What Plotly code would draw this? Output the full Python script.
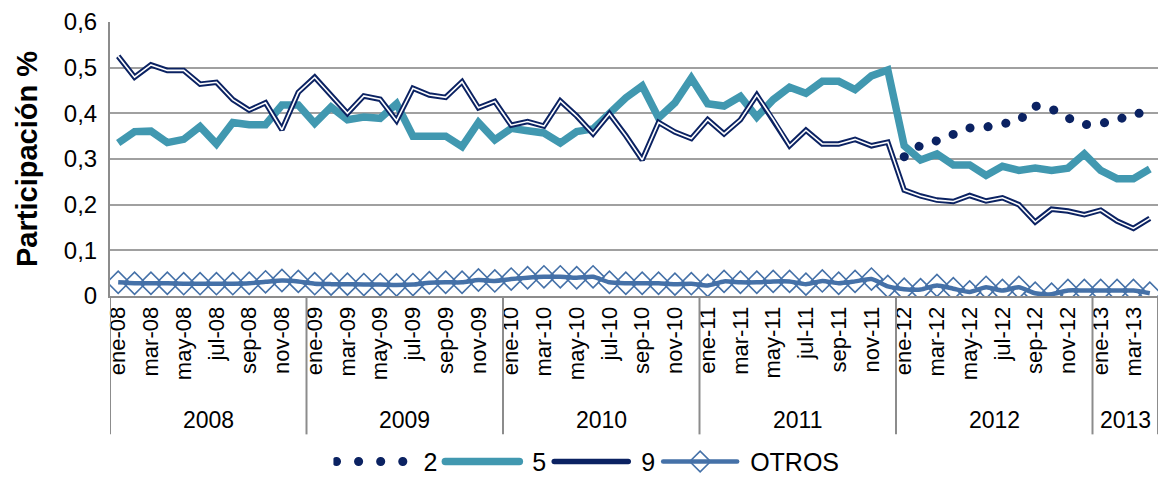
import plotly.graph_objects as go

# ---------------- data ----------------
years = ["2008", "2009", "2010", "2011", "2012", "2013"]
months_per_year = [12, 12, 12, 12, 12, 4]
month_abbr = ["ene", "feb", "mar", "abr", "may", "jun", "jul", "ago", "sep", "oct", "nov", "dic"]
series_names = ["2", "5", "9", "OTROS"]

serie_5 = [0.335, 0.360, 0.361, 0.336, 0.343, 0.371, 0.333, 0.380, 0.375, 0.375, 0.418, 0.418,
           0.378, 0.414, 0.386, 0.392, 0.389, 0.421, 0.350, 0.350, 0.350, 0.327, 0.380, 0.342,
           0.367, 0.362, 0.357, 0.335, 0.360, 0.366, 0.398, 0.434, 0.460, 0.390, 0.423, 0.477,
           0.421, 0.416, 0.437, 0.392, 0.430, 0.457, 0.444, 0.470, 0.470, 0.452, 0.482, 0.495,
           0.329, 0.298, 0.311, 0.287, 0.287, 0.264, 0.284, 0.275, 0.280, 0.275, 0.280, 0.311,
           0.275, 0.257, 0.257, 0.278]

serie_9 = [0.525, 0.479, 0.506, 0.494, 0.494, 0.464, 0.468, 0.430, 0.407, 0.423, 0.364, 0.446,
           0.479, 0.440, 0.400, 0.438, 0.431, 0.384, 0.455, 0.440, 0.435, 0.469, 0.412, 0.426,
           0.374, 0.382, 0.372, 0.427, 0.394, 0.355, 0.399, 0.351, 0.298, 0.380, 0.359, 0.345,
           0.386, 0.355, 0.386, 0.440, 0.387, 0.329, 0.363, 0.333, 0.333, 0.343, 0.329, 0.337,
           0.232, 0.219, 0.210, 0.207, 0.220, 0.208, 0.215, 0.200, 0.162, 0.190, 0.186, 0.178,
           0.188, 0.164, 0.148, 0.170]

serie_2 = [None] * 48 + [0.305, 0.330, 0.340, 0.355, 0.368, 0.370, 0.378, 0.384, 0.416, 0.410,
                         0.390, 0.375, 0.378, 0.385, 0.400, 0.400]

serie_otros = [0.030, 0.028, 0.028, 0.028, 0.027, 0.027, 0.027, 0.027, 0.028, 0.031, 0.034, 0.032,
               0.027, 0.026, 0.026, 0.025, 0.025, 0.024, 0.025, 0.029, 0.030, 0.030, 0.035, 0.033,
               0.037, 0.040, 0.042, 0.042, 0.040, 0.042, 0.030, 0.028, 0.028, 0.028, 0.026, 0.027,
               0.023, 0.032, 0.030, 0.030, 0.032, 0.032, 0.026, 0.033, 0.028, 0.032, 0.037, 0.021,
               0.015, 0.014, 0.023, 0.016, 0.009, 0.019, 0.012, 0.019, 0.006, 0.004, 0.012, 0.012,
               0.012, 0.012, 0.012, 0.006]

y_tick_vals = [0, 0.1, 0.2, 0.3, 0.4, 0.5, 0.6]
y_tick_text = ["0", "0,1", "0,2", "0,3", "0,4", "0,5", "0,6"]

# ---------------- derived categories ----------------
labels = []
year_start = []
idx = 0
for y, n in zip(years, months_per_year):
    year_start.append(idx)
    for m in range(n):
        labels.append(f"{month_abbr[m]}-{y[2:]}")
        idx += 1
x = list(range(len(labels)))
tick_idx = [i for i in x if i % 2 == 0]
tick_txt = [labels[i] for i in tick_idx]

FONT = "Liberation Sans, Arial, sans-serif"
TEAL = "#4198b0"
NAVY = "#0b2262"
BLUE = "#4571a8"
GRID = "#a0a0a0"
AXIS = "#8c8c8c"
LEG_ITEM_W = 80

fig = go.Figure()
fig.add_trace(go.Scatter(x=x, y=serie_2, name=series_names[0], mode="lines",
                         line=dict(color=NAVY, width=9, dash="7px,11px")))
fig.add_trace(go.Scatter(x=x, y=serie_5, name=series_names[1], mode="lines",
                         line=dict(color=TEAL, width=7.5)))
fig.add_trace(go.Scatter(x=x, y=serie_9, name=series_names[2], mode="lines",
                         line=dict(color=NAVY, width=5.5)))
fig.add_trace(go.Scatter(x=x, y=serie_9, name=series_names[2], mode="lines", showlegend=False,
                         hoverinfo="skip", line=dict(color="white", width=1.6)))
fig.add_trace(go.Scatter(x=x, y=serie_otros, name=series_names[3], mode="lines+markers",
                         line=dict(color=BLUE, width=4.5, shape="spline", smoothing=0.6),
                         marker=dict(symbol="diamond-open", size=17, color=BLUE,
                                     line=dict(width=1.6, color=BLUE))))

# year labels and separators under the axis
for y, s, n in zip(years, year_start, months_per_year):
    fig.add_annotation(x=s + (n - 1) / 2, y=-0.453, xref="x", yref="paper",
                       xanchor="center", yanchor="middle",
                       text=y, showarrow=False, font=dict(size=23, color="black", family=FONT))
bounds = [s - 0.5 for s in year_start] + [len(x) - 0.5]
for b in bounds:
    fig.add_shape(type="line", x0=b, x1=b, xref="x", y0=0, y1=-0.505, yref="paper",
                  line=dict(color=AXIS, width=2))

fig.update_layout(
    width=1161, height=487,
    margin=dict(l=110, r=3, t=22, b=189),
    paper_bgcolor="white", plot_bgcolor="white",
    font=dict(family=FONT, color="black"),
    showlegend=True,
    legend=dict(orientation="h", x=0.457, xanchor="center", y=-0.605, yanchor="middle",
                font=dict(size=25, color="black"), traceorder="normal", itemwidth=LEG_ITEM_W),
    xaxis=dict(range=[-0.5, len(x) - 0.5], tickmode="array", tickvals=tick_idx, ticktext=tick_txt,
               tickangle=-90, tickfont=dict(size=22, color="black"), showgrid=False,
               showline=True, linecolor=AXIS, linewidth=2, ticks="", zeroline=False),
    yaxis=dict(range=[0, 0.6], tickmode="array", tickvals=y_tick_vals, ticktext=y_tick_text,
               tickfont=dict(size=24, color="black"), showgrid=True, gridcolor=GRID, gridwidth=2,
               showline=True, linecolor=AXIS, linewidth=2, zeroline=False, ticks="",
               ticklabelstandoff=6,
               title=dict(text="<b>Participación %</b>", font=dict(size=29, color="black"), standoff=18)),
)

post = """
document.body.style.margin = '0';
var gd = document.getElementById('{plot_id}');
var LW = %d;
function restyleLegend(){
  var tr = gd.querySelectorAll('.scatterlayer .trace');
  if (tr.length) { tr[0].querySelectorAll('path.js-line').forEach(function(p){
      p.style.strokeLinecap='round'; p.style.strokeDasharray='0.1px,18px';}); }
  var lt = gd.querySelectorAll('.legend .traces');
  lt.forEach(function(t, i){
    t.querySelectorAll('.legendlines path').forEach(function(p){
      p.setAttribute('d', 'M3,0h' + (LW - 6));
      p.style.strokeLinecap = 'round';
      if (i === 0) { p.style.strokeDasharray = '0.1px,22px'; }
    });
    t.querySelectorAll('.legendpoints path').forEach(function(p){
      p.setAttribute('transform', 'translate(' + (LW / 2) + ',0)');
    });
  });
}
restyleLegend();
gd.on('plotly_afterplot', restyleLegend);
""" % LEG_ITEM_W

fig.write_html("out.html", post_script=post, config={"displayModeBar": False})
